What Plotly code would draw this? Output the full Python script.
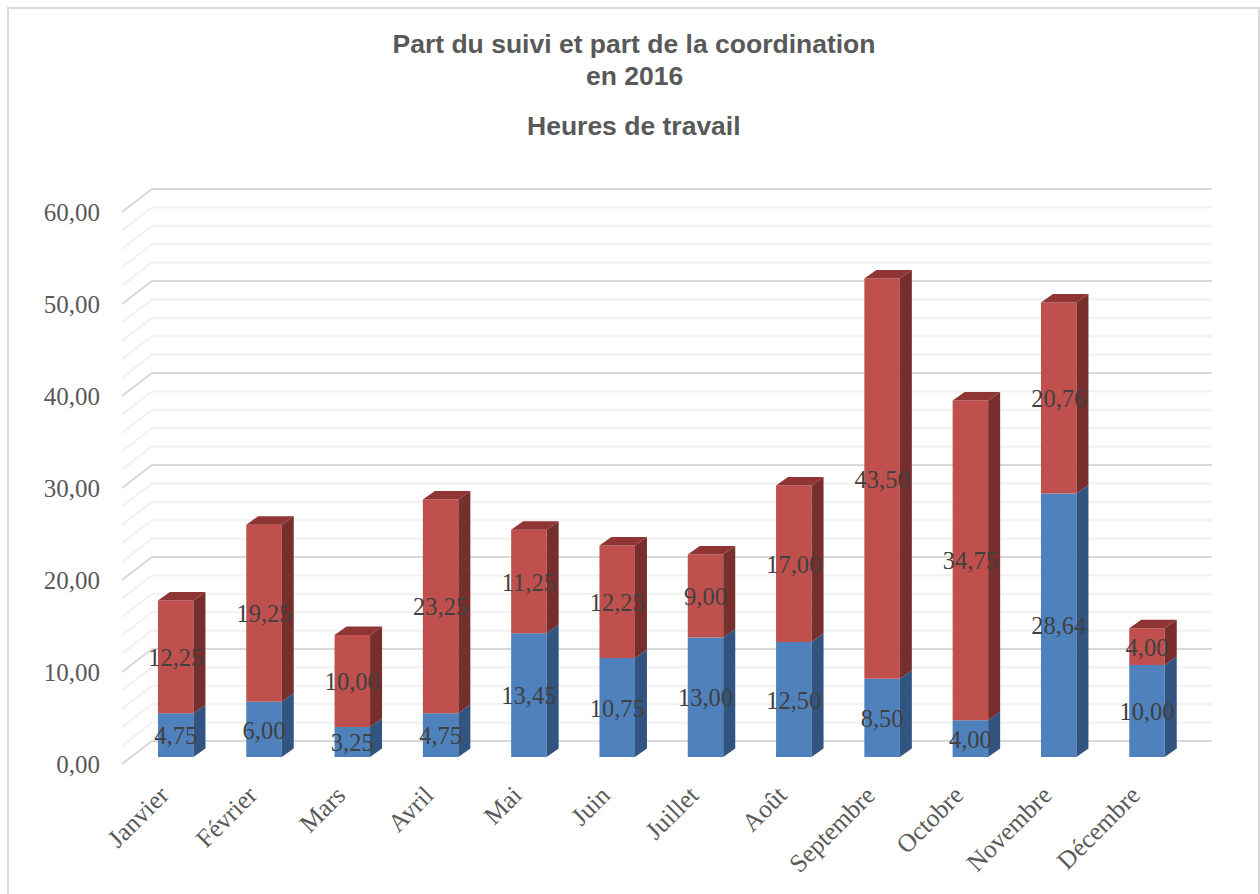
import plotly.graph_objects as go

mois = ["Janvier", "Février", "Mars", "Avril", "Mai", "Juin", "Juillet", "Août",
        "Septembre", "Octobre", "Novembre", "Décembre"]
suivi = [4.75, 6.00, 3.25, 4.75, 13.45, 10.75, 13.00, 12.50, 8.50, 4.00, 28.64, 10.00]
coordination = [12.25, 19.25, 10.00, 23.25, 11.25, 12.25, 9.00, 17.00, 43.50, 34.75, 20.76, 4.00]
y_major = [0, 10, 20, 30, 40, 50, 60]
y_minor = [v for v in range(0, 60, 2) if v % 10]
y_labels = ["0,00", "10,00", "20,00", "30,00", "40,00", "50,00", "60,00"]

W, H = 1260, 894
PLOT_L, PLOT_R, PLOT_T, PLOT_B = 106, 1225, 170, 768
X0_PX, X_STEP = 175.7, 88.3
Y0_PX, Y_STEP = 764.0, 9.2
px2x = lambda p: (p - X0_PX) / X_STEP
px2y = lambda p: (Y0_PX - p) / Y_STEP
paper_x = lambda p: (p - PLOT_L) / (PLOT_R - PLOT_L)
paper_y = lambda p: (PLOT_B - p) / (PLOT_B - PLOT_T)

BAR_W = 35.5 / X_STEP
BASE = 7 / Y_STEP           # bars stand in front of the wall's floor
DX, DY = 12 / X_STEP, 8.5 / Y_STEP
WALL_X0, WALL_X1, WALL_X2 = px2x(122), px2x(152), px2x(1212)
WALL_DY = 23 / Y_STEP
LABEL_SHIFT = 3 / Y_STEP
xs = list(range(len(mois)))

BLUE, BLUE_SIDE = "#4F81BD", "#325480"
RED, RED_SIDE, RED_TOP = "#C0504D", "#772F2D", "#8F3533"


def side_polys(bottoms, tops):
    px, py = [], []
    for i, b, t in zip(xs, bottoms, tops):
        r = i + BAR_W / 2
        px += [r, r + DX, r + DX, r, r, None]
        py += [b, b + DY, t + DY, t, b, None]
    return px, py


def top_polys(tops):
    px, py = [], []
    for i, t in zip(xs, tops):
        l, r = i - BAR_W / 2, i + BAR_W / 2
        px += [l, r, r + DX, l + DX, l, None]
        py += [t, t, t + DY, t + DY, t, None]
    return px, py


blue_b = [BASE] * len(xs)
blue_t = [BASE + v for v in suivi]
red_t = [BASE + a + b for a, b in zip(suivi, coordination)]

fig = go.Figure()
fig.add_bar(x=xs, y=suivi, base=blue_b, width=BAR_W, marker=dict(color=BLUE, line_width=0), name="Suivi")
fig.add_bar(x=xs, y=coordination, base=blue_t, width=BAR_W, marker=dict(color=RED, line_width=0), name="Coordination")

for (bots, tops, col) in ((blue_b, blue_t, BLUE_SIDE), (blue_t, red_t, RED_SIDE)):
    px_, py_ = side_polys(bots, tops)
    fig.add_scatter(x=px_, y=py_, mode="lines", fill="toself", fillcolor=col,
                    line=dict(width=0, color=col), hoverinfo="skip")
px_, py_ = top_polys(red_t)
fig.add_scatter(x=px_, y=py_, mode="lines", fill="toself", fillcolor=RED_TOP,
                line=dict(width=0, color=RED_TOP), hoverinfo="skip")

fig.add_scatter(
    x=xs + xs,
    y=[BASE - LABEL_SHIFT + v / 2 for v in suivi] + [BASE - LABEL_SHIFT + a + b / 2 for a, b in zip(suivi, coordination)],
    mode="text",
    text=[f"{v:.2f}".replace(".", ",") for v in suivi + coordination],
    textfont=dict(family="Liberation Serif", size=24.5, color="#404040"),
    textposition="middle center",
    hoverinfo="skip",
)

shapes = []
for vals, col, w in ((y_minor, "#F2F2F2", 2.2), (y_major, "#D9D9D9", 2.2)):
    for v in vals:
        shapes.append(dict(
            type="path", layer="below", xref="x", yref="y",
            path=f"M {WALL_X0} {v} L {WALL_X1} {v + WALL_DY} L {WALL_X2} {v + WALL_DY}",
            line=dict(color=col, width=w),
        ))
shapes.append(dict(type="rect", xref="paper", yref="paper", layer="below",
                   x0=paper_x(8), x1=paper_x(1259),
                   y0=paper_y(930), y1=paper_y(8),
                   line=dict(color="#D9D9D9", width=2)))

TITLE_FONT = dict(family="Liberation Sans", size=26.5, color="#595959")
title_lines = [("Part du suivi et part de la coordination", 44), ("en 2016", 76), ("Heures de travail", 126)]

fig.update_layout(
    width=W, height=H, barmode="overlay", showlegend=False, autosize=False,
    paper_bgcolor="white", plot_bgcolor="rgba(0,0,0,0)",
    margin=dict(l=PLOT_L, r=W - PLOT_R, t=PLOT_T, b=H - PLOT_B, pad=0, autoexpand=False),
    title=dict(text=f"<b>{title_lines[0][0]}</b>", x=634 / W, xanchor="center",
               y=1 - title_lines[0][1] / H, yanchor="middle", font=TITLE_FONT),
    annotations=[dict(text=f"<b>{t}</b>", xref="paper", yref="paper",
                      x=paper_x(634), y=paper_y(py),
                      xanchor="center", yanchor="middle", showarrow=False, font=TITLE_FONT)
                 for t, py in title_lines[1:]],
    shapes=shapes,
    xaxis=dict(range=[px2x(PLOT_L), px2x(PLOT_R)], tickmode="array", automargin=False,
               tickvals=[i - 0.165 for i in xs], ticktext=mois, tickangle=-45,
               showgrid=False, zeroline=False, showline=False, ticks="outside",
               ticklen=1, tickcolor="rgba(0,0,0,0)",
               tickfont=dict(family="Liberation Serif", size=25.5, color="#595959")),
    yaxis=dict(range=[px2y(PLOT_B), px2y(PLOT_T)], tickmode="array", automargin=False,
               tickvals=y_major, ticktext=y_labels,
               showgrid=False, zeroline=False, showline=False, ticks="outside",
               ticklen=0, tickcolor="rgba(0,0,0,0)",
               tickfont=dict(family="Liberation Serif", size=25, color="#595959")),
)
fig.write_html("out.html", config=dict(displayModeBar=False),
               post_script="document.body.style.margin='0';")
